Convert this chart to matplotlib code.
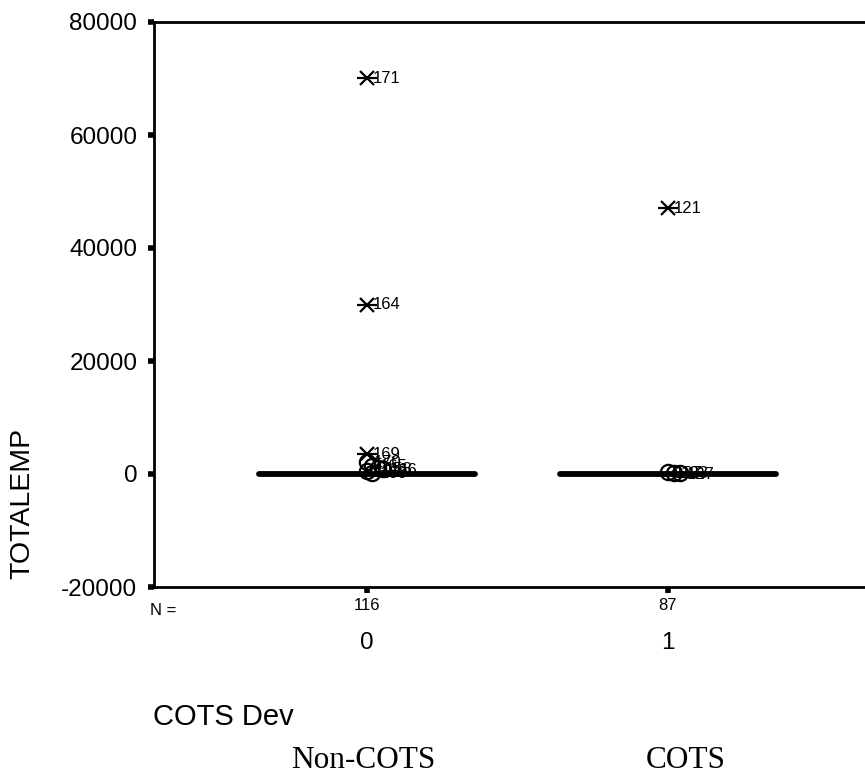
"""SPSS-style boxplot of TOTALEMP by COTS Dev."""
import matplotlib
matplotlib.use("Agg")
import matplotlib.pyplot as plt

groups = [0, 1]
group_names = ["Non-COTS", "COTS"]
counts = [116, 87]

# five-number summaries (box collapsed near zero at this scale)
q1 = [5, 4]
med = [20, 15]
q3 = [60, 45]
wlo = [0, 0]
whi = [140, 110]

# extremes (asterisks) and outliers (circles), with case labels
ext_x = [0, 0, 0, 1]
ext_y = [70000, 30000, 3500, 47000]
ext_lab = ["171", "164", "169", "121"]

out_x = [0, 0, 0, 0, 0, 0, 1, 1, 1]
out_y = [2200, 1500, 1100, 800, 500, 250, 400, 250, 150]
out_lab = ["170", "165", "158", "166", "153", "160", "137", "123", "127"]

plt.rcParams["font.family"] = ["Liberation Sans", "DejaVu Sans"]

W, H = 865, 774
fig = plt.figure(figsize=(W / 100, H / 100), dpi=100)
ax = fig.add_axes([154 / W, 1 - 587 / H, (881 - 154) / W, (587 - 22) / H])

stats = []
for i in range(len(groups)):
    stats.append(dict(med=med[i], q1=q1[i], q3=q3[i], whislo=wlo[i], whishi=whi[i], fliers=[]))
ax.bxp(stats, positions=groups, widths=0.72, showfliers=False,
       boxprops=dict(color="black", linewidth=1.5),
       medianprops=dict(color="black", linewidth=4.2, solid_capstyle="round"),
       whiskerprops=dict(color="black"), capprops=dict(color="black"))

# outliers: hollow circles, offset slightly so the stack spreads like SPSS
for k, (x, y, lab) in enumerate(zip(out_x, out_y, out_lab)):
    dx = 0.018 * (k % 4) if x == 0 else 0.02 * (k - 6)
    ax.plot(x + dx, y, marker="o", ms=11, mfc="none", mec="black", mew=1.6, zorder=5)
    ax.annotate(lab, (x + dx, y), textcoords="offset points", xytext=(5, -1),
                va="center", ha="left", fontsize=12)

# extremes: asterisk drawn as x plus horizontal bar
for x, y, lab in zip(ext_x, ext_y, ext_lab):
    ax.plot(x, y, marker="x", ms=10, mec="black", mew=1.6, zorder=6)
    ax.plot(x, y, marker="_", ms=15, mec="black", mew=1.6, zorder=6)
    ax.annotate(lab, (x, y), textcoords="offset points", xytext=(4, 0),
                va="center", ha="left", fontsize=12)

ax.set_xlim(-0.708, 1.708)
ax.set_ylim(-20000, 80000)
ax.set_yticks([-20000, 0, 20000, 40000, 60000, 80000])
ax.set_yticklabels(["-20000", "0", "20000", "40000", "60000", "80000"], fontsize=17.5)
ax.set_xticks(groups)
ax.set_xticklabels([str(c) for c in counts], fontsize=12)
ax.tick_params(axis="both", direction="out", length=4, width=4, color="black", pad=4)
ax.tick_params(axis="y", pad=8)

ax.spines["right"].set_visible(False)
for s in ["left", "bottom", "top"]:
    ax.spines[s].set_linewidth(2)

fig.text(22 / W, 1 - 503 / H, "TOTALEMP", rotation=90, ha="center", va="center", fontsize=20.5)

ax.text(-0.005, -0.028, "N =", transform=ax.transAxes, ha="left", va="top", fontsize=12)
for g in groups:
    ax.text(g, -0.099, str(g), transform=ax.get_xaxis_transform(),
            ha="center", va="center", fontsize=17.5)

fig.text(153 / W, 1 - 717 / H, "COTS Dev", ha="left", va="center", fontsize=21)
for cx, name in zip([363, 686], group_names):
    fig.text(cx / W, 1 - 760 / H, name, ha="center", va="center", fontsize=22.5,
             family=["Liberation Serif", "DejaVu Serif"])

fig.savefig("out.png", dpi=100)
